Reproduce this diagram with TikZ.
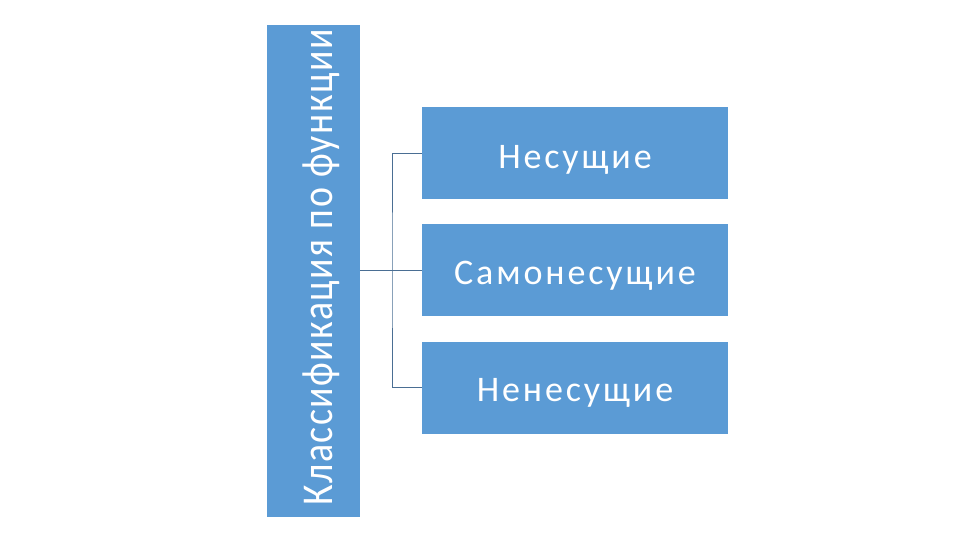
\documentclass[tikz,border=0pt]{standalone}
\usepackage{fontspec}
\setmainfont{Carlito}
\newfontfamily\spacedfont[LetterSpace=8]{Carlito}
\newfontfamily\vspacedfont[LetterSpace=4]{Carlito}
\definecolor{boxblue}{HTML}{5B9BD5}
\definecolor{linecol}{HTML}{4A6E93}
\begin{document}
\begin{tikzpicture}[x=1pt,y=-1pt,
  blk/.style={fill=boxblue,draw=none,inner sep=0pt},
  lbl/.style={text=white,inner sep=0pt,font=\spacedfont\fontsize{36}{40}\selectfont},
  conn/.style={draw=linecol,line width=0.9pt}]
\useasboundingbox (0,0) rectangle (960,540);
\node[blk,minimum width=93pt,minimum height=492pt] (root) at (313.5,271) {};
\node[text=white,inner sep=0pt,rotate=90,anchor=base,font=\vspacedfont\fontsize{44}{50}\selectfont] (roottext) at (332,267.5) {\scalebox{0.86}[1]{Классификация по функции}};
\node[blk,minimum width=306pt,minimum height=92pt] (a) at (575,153) {};
\node[blk,minimum width=306pt,minimum height=92pt] (b) at (575,270) {};
\node[blk,minimum width=306pt,minimum height=92pt] (c) at (575,387.5) {};
\node[lbl,anchor=base] (ta) at (575,168) {Несущие};
\node[lbl,anchor=base] (tb) at (575,284) {Самонесущие};
\node[lbl,anchor=base] (tc) at (575,401) {Ненесущие};
\coordinate (j) at (392,270);
\draw[conn] (root.east |- j) -- (j);
\draw[conn] (a.west) -| (j) |- (c.west);
\draw[conn] (j) -- (b.west);
\end{tikzpicture}
\end{document}
